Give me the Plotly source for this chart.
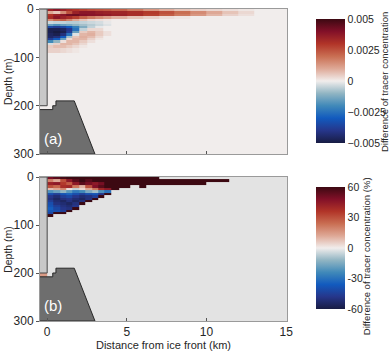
import plotly.graph_objects as go
from plotly.subplots import make_subplots

# ---- panel (a): tracer difference, units of 1e-3 ----
x_edges_a = [-0.5, 0, 0.4, 0.8, 1.2, 1.6, 2.0, 2.5, 3.0, 3.5, 4.0, 5, 6, 7, 8, 9, 10, 11, 12, 13]
depth_edges_a = [0, 5, 10, 15, 20, 25, 30, 35, 40, 45, 50, 55, 60, 65, 70, 75, 80, 90]
diff_a = [
    [0, 3.5, 3.8, 3.5, 3.2, 3.0, 2.8, 2.6, 2.5, 2.4, 2.2, 1.8, 1.3, 0.9, 0.6, 0.4, 0.3, 0.2, 0.1],
    [0, 1.0, 0.6, 1.5, 2.5, 3.5, 3.8, 3.8, 3.6, 3.5, 3.4, 3.2, 2.9, 2.5, 2.0, 1.5, 1.0, 0.6, 0.3],
    [0, 3.0, 3.5, 3.8, 4.2, 4.3, 4.0, 3.9, 3.8, 3.7, 3.5, 3.2, 2.8, 2.3, 1.8, 1.3, 0.8, 0.4, 0.2],
    [0, 3.2, 3.8, 3.5, 3.2, 2.8, 2.2, 1.8, 1.5, 1.2, 0.9, 0.6, 0.4, 0.2, 0.1, 0, 0, 0, 0],
    [0, 1.5, 2.0, 2.2, 1.6, 1.0, 0.6, 0.3, 0.2, 0.1, 0, 0, 0, 0, 0, 0, 0, 0, 0],
    [0, -0.4, -0.5, -0.5, -0.6, -0.6, -0.5, -0.4, -0.3, -0.1, 0, 0, 0, 0, 0, 0, 0, 0, 0],
    [0, -1.5, -1.8, -1.5, -1.3, -1.0, -0.8, -0.6, -0.4, -0.2, 0, 0, 0, 0, 0, 0, 0, 0, 0],
    [0, -3.5, -3.8, -3.5, -3.0, -2.2, -1.2, -0.5, -0.1, 0, 0, 0, 0, 0, 0, 0, 0, 0, 0],
    [0, -4.8, -4.8, -4.6, -4.0, -2.5, -0.5, 0.3, 0.3, 0, 0, 0, 0, 0, 0, 0, 0, 0, 0],
    [0, -4.8, -5.0, -4.8, -3.8, -1.5, 0.5, 0.8, 0.5, 0.2, 0, 0, 0, 0, 0, 0, 0, 0, 0],
    [0, -4.6, -4.8, -4.2, -2.5, -0.2, 0.8, 0.9, 0.5, 0.2, 0, 0, 0, 0, 0, 0, 0, 0, 0],
    [0, -4.5, -4.2, -3.0, -0.8, 0.6, 0.9, 0.7, 0.3, 0, 0, 0, 0, 0, 0, 0, 0, 0, 0],
    [0, -3.8, -3.0, -1.5, 0.3, 0.8, 0.8, 0.4, 0.1, 0, 0, 0, 0, 0, 0, 0, 0, 0, 0],
    [0, -2.0, -1.0, 0.2, 0.8, 0.8, 0.5, 0.2, 0, 0, 0, 0, 0, 0, 0, 0, 0, 0, 0],
    [0, -0.3, 0.4, 0.8, 0.8, 0.6, 0.3, 0, 0, 0, 0, 0, 0, 0, 0, 0, 0, 0, 0],
    [0, 0.5, 0.7, 0.7, 0.5, 0.3, 0.1, 0, 0, 0, 0, 0, 0, 0, 0, 0, 0, 0, 0],
    [0, 0.4, 0.4, 0.3, 0.2, 0.1, 0, 0, 0, 0, 0, 0, 0, 0, 0, 0, 0, 0, 0],
]

# ---- panel (b): tracer difference, percent (None = no tracer) ----
N = None
x_edges_b = [-0.5, 0, 0.4, 0.8, 1.2, 1.6, 2.0, 2.4, 2.8, 3.2, 3.6, 4.0, 4.5, 5.2, 5.8, 6.2, 7.0, 8, 9, 10, 11.4]
depth_edges_b = [0, 5, 11, 17, 23, 28, 33, 38, 43, 48, 53, 58, 63, 68, 73, 78, 83]
diff_b = [
    [N, 50, 55, 58, 60, 60, 60, 60, 60, 60, 60, 60, 60, 60, 60, 60, N, N, N, N],
    [N, 20, 12, 30, 45, 55, 60, 55, 60, 60, 60, 60, 60, 60, 60, 60, 60, 60, 60, 60],
    [N, 42, 45, 35, 28, 45, 55, 50, 45, 50, 60, 60, 60, 60, 60, 60, 60, 60, 60, N],
    [N, 30, 25, 38, 40, 22, 10, 30, 48, 55, 60, 60, 60, N, 60, N, N, N, N, N],
    [N, 8, 12, 18, 2, -6, 4, 12, 22, 40, 45, 60, N, N, N, N, N, N, N, N],
    [N, -22, -18, -12, -20, -28, -24, -15, -10, -22, -30, N, N, N, N, N, N, N, N, N],
    [N, -40, -45, -38, -34, -40, -45, -40, -38, -48, 60, N, N, N, N, N, N, N, N, N],
    [N, -48, -52, -45, -42, -48, -52, -50, -45, 60, N, N, N, N, N, N, N, N, N, N],
    [N, -50, -55, -50, -48, -52, -55, -50, 60, N, N, N, N, N, N, N, N, N, N, N],
    [N, -45, -52, -55, -50, -55, -50, 60, N, N, N, N, N, N, N, N, N, N, N, N],
    [N, -40, -50, -52, -55, -50, 60, N, N, N, N, N, N, N, N, N, N, N, N, N],
    [N, -38, -45, -50, -52, -48, N, N, N, N, N, N, N, N, N, N, N, N, N, N],
    [N, -35, -42, -48, -50, 60, N, N, N, N, N, N, N, N, N, N, N, N, N, N],
    [N, -38, -40, -45, 60, N, N, N, N, N, N, N, N, N, N, N, N, N, N, N],
    [N, -42, 60, 60, N, N, N, N, N, N, N, N, N, N, N, N, N, N, N, N],
    [N, 60, N, N, N, N, N, N, N, N, N, N, N, N, N, N, N, N, N, N],
]

# gap between ice-shelf base and sill (panel b only shows tracer there)
gap_x_edges = [-0.5, 0]
gap_depth_edges = [200, 208]
gap_b = [[15]]

# geometry
ice_x = [-0.5, 0, 0, -0.5, -0.5]
ice_depth = [0, 0, 200, 200, 0]
bed_x = [-0.5, 0.35, 0.35, 0.55, 0.55, 1.7, 3.0, -0.5, -0.5]
bed_depth = [208, 208, 200, 200, 190, 190, 300, 300, 208]

balance = [
    [0.0, "rgb(24,28,67)"], [0.1, "rgb(38,54,138)"], [0.2, "rgb(18,90,190)"],
    [0.3, "rgb(64,137,185)"], [0.4, "rgb(145,181,195)"], [0.5, "rgb(241,237,236)"],
    [0.6, "rgb(222,168,150)"], [0.7, "rgb(201,110,82)"], [0.8, "rgb(177,52,40)"],
    [0.9, "rgb(130,16,40)"], [1.0, "rgb(60,9,18)"],
]
zero_col = "rgb(241,237,236)"
txt = "#262626"
fnt = "Liberation Sans, Arial, sans-serif"

fig = make_subplots(rows=2, cols=1)

fig.add_trace(go.Heatmap(x=x_edges_a, y=depth_edges_a, z=diff_a, coloraxis="coloraxis",
                         hoverinfo="skip"), row=1, col=1)
fig.add_trace(go.Heatmap(x=x_edges_b, y=depth_edges_b, z=diff_b, coloraxis="coloraxis2",
                         hoverinfo="skip"), row=2, col=1)
fig.add_trace(go.Heatmap(x=gap_x_edges, y=gap_depth_edges, z=gap_b, coloraxis="coloraxis2",
                         hoverinfo="skip"), row=2, col=1)

for r in (1, 2):
    fig.add_trace(go.Scatter(x=ice_x, y=ice_depth, fill="toself", mode="lines",
                             fillcolor="rgb(200,200,200)", line=dict(color="rgb(70,70,70)", width=1),
                             hoverinfo="skip", showlegend=False), row=r, col=1)
    fig.add_trace(go.Scatter(x=bed_x, y=bed_depth, fill="toself", mode="lines",
                             fillcolor="rgb(110,110,110)", line=dict(color="rgb(40,40,40)", width=1),
                             hoverinfo="skip", showlegend=False), row=r, col=1)

# background of panel (a) = zero difference
fig.add_shape(type="rect", xref="x domain", yref="y domain", x0=0, x1=1, y0=0, y1=1,
              fillcolor=zero_col, line_width=0, layer="below")

axis_common = dict(showline=True, linecolor="#9a9a9a", linewidth=1, mirror=True,
                   showgrid=False, zeroline=False, tickcolor="#555555", automargin=False,
                   tickfont=dict(family=fnt, size=12, color=txt))
fig.update_xaxes(range=[-0.45, 15.05], tickvals=[0, 5, 10, 15], ticks="inside", ticklen=3,
                 **axis_common)
fig.update_xaxes(showticklabels=False, row=1, col=1)
fig.update_xaxes(title=dict(text="Distance from ice front (km)", standoff=0,
                            font=dict(family=fnt, size=11, color=txt)), row=2, col=1)
fig.update_yaxes(range=[300, 0], tickvals=[0, 100, 200, 300], ticks="outside", ticklen=3,
                 **axis_common)
fig.update_yaxes(domain=[0.535, 1.0], row=1, col=1)
fig.update_yaxes(domain=[0.0, 0.4615], row=2, col=1)

fig.update_layout(
    width=389, height=353,
    margin=dict(l=40, r=102, t=9, b=32, autoexpand=False),
    paper_bgcolor="white", plot_bgcolor="rgb(227,227,227)",
    showlegend=False,
    coloraxis=dict(colorscale=balance, cmin=-5, cmax=5,
                   colorbar=dict(x=1.077, xanchor="left", y=1.0, yanchor="top", len=0.4615,
                                 thickness=29, outlinewidth=0, ticks="",
                                 tickvals=[-5, -2.5, 0, 2.5, 5],
                                 ticktext=["\u22120.005", "\u22120.0025", "0", "0.0025", "0.005"],
                                 tickfont=dict(family=fnt, size=10.5, color=txt))),
    coloraxis2=dict(colorscale=balance, cmin=-60, cmax=60,
                    colorbar=dict(x=1.077, xanchor="left", y=0.4615, yanchor="top", len=0.455,
                                  thickness=29, outlinewidth=0, ticks="",
                                  tickvals=[-60, -30, 0, 30, 60],
                                  ticktext=["-60", "-30", "0", "30", "60"],
                                  tickfont=dict(family=fnt, size=10.5, color=txt))),
)

fig.add_annotation(x=0.35, y=268, xref="x", yref="y", text="(a)", showarrow=False,
                   font=dict(family=fnt, size=15, color="white"))
fig.add_annotation(x=0.35, y=268, xref="x2", yref="y2", text="(b)", showarrow=False,
                   font=dict(family=fnt, size=15, color="white"))

# axis / colorbar titles
for yc in (0.769, 0.231):
    fig.add_annotation(x=-0.13, y=yc, xref="paper", yref="paper", textangle=-90,
                       xanchor="center", yanchor="middle", text="Depth (m)", showarrow=False,
                       font=dict(family=fnt, size=10.5, color=txt))
fig.add_annotation(x=1.393, y=0.766, xref="paper", yref="paper", textangle=-90,
                   xanchor="center", yanchor="middle",
                   text="Difference of tracer concentration", showarrow=False,
                   font=dict(family=fnt, size=9.5, color=txt))
fig.add_annotation(x=1.32, y=0.208, xref="paper", yref="paper", textangle=-90,
                   xanchor="center", yanchor="middle",
                   text="Difference of tracer concentration (%)", showarrow=False,
                   font=dict(family=fnt, size=9.5, color=txt))

# drop the default 8px page margin so the figure sits at the window origin
fig.write_html("out.html", config={"displayModeBar": False},
               post_script="document.body.style.margin='0px';")
